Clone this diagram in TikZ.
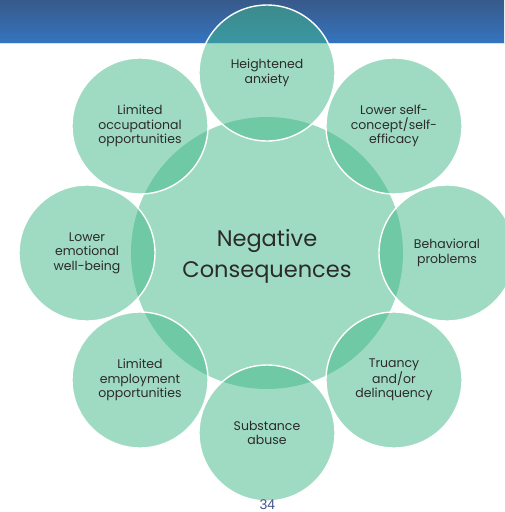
\documentclass[tikz,border=0pt]{standalone}
\usepackage{fontspec}
\setmainfont{Poppins}
\newfontfamily\numfont{Liberation Sans}
\usetikzlibrary{shapes.geometric}

\definecolor{bannerTop}{HTML}{385A8A}
\definecolor{bannerBot}{HTML}{3474C0}
\definecolor{bubble}{RGB}{65,185,135}
\definecolor{inkText}{HTML}{2B2B2B}
\definecolor{pageNum}{HTML}{45558A}

\tikzset{
  hub/.style={circle, minimum size=272pt, inner sep=0pt, fill=bubble,
    fill opacity=0.5, draw=none},
  hubtext/.style={inner sep=0pt, text=inkText, align=center,
    font=\fontsize{22.5}{31}\selectfont},
  bubblenode/.style={circle, minimum size=136pt, inner sep=0pt, fill=bubble,
    fill opacity=0.5, text opacity=1, draw=white, draw opacity=1,
    line width=1.4pt, text=inkText, align=center,
    font=\fontsize{12.5}{14.5}\selectfont},
}

\begin{document}
\begin{tikzpicture}[x=1pt,y=-1pt]
  \useasboundingbox (0,0) rectangle (504,512);
  \fill[white] (0,0) rectangle (504,512);

  % title banner
  \shade[top color=bannerTop, bottom color=bannerBot] (0,0) rectangle (504,43);
  \draw[color={rgb,255:red,214;green,226;blue,240}, line width=1pt] (0,43.5) -- (504,43.5);

  % central circle and its caption
  \node[hub] (hub) at (267,253) {};
  \node[hubtext, yshift=-3pt] (hubtxt) at (hub.center) {Negative\\Consequences};

  % surrounding circles
  \node[bubblenode] (anx)  at (267,73)  {Heightened\\anxiety};
  \node[bubblenode] (self) at (394,126) {Lower self-\\concept/self-\\efficacy};
  \node[bubblenode] (beh)  at (447,253) {Behavioral\\problems};
  \node[bubblenode] (tru)  at (394,380) {Truancy\\and/or\\delinquency};
  \node[bubblenode] (sub)  at (267,433) {Substance\\abuse};
  \node[bubblenode] (emp)  at (140,380) {Limited\\employment\\opportunities};
  \node[bubblenode] (emo)  at (87,253)  {Lower\\emotional\\well-being};
  \node[bubblenode] (occ)  at (140,126) {Limited\\occupational\\opportunities};

  % page number
  \node[text=pageNum, font=\numfont\fontsize{14}{15}\selectfont, inner sep=0pt] (page) at (267.5,505) {34};
\end{tikzpicture}
\end{document}
